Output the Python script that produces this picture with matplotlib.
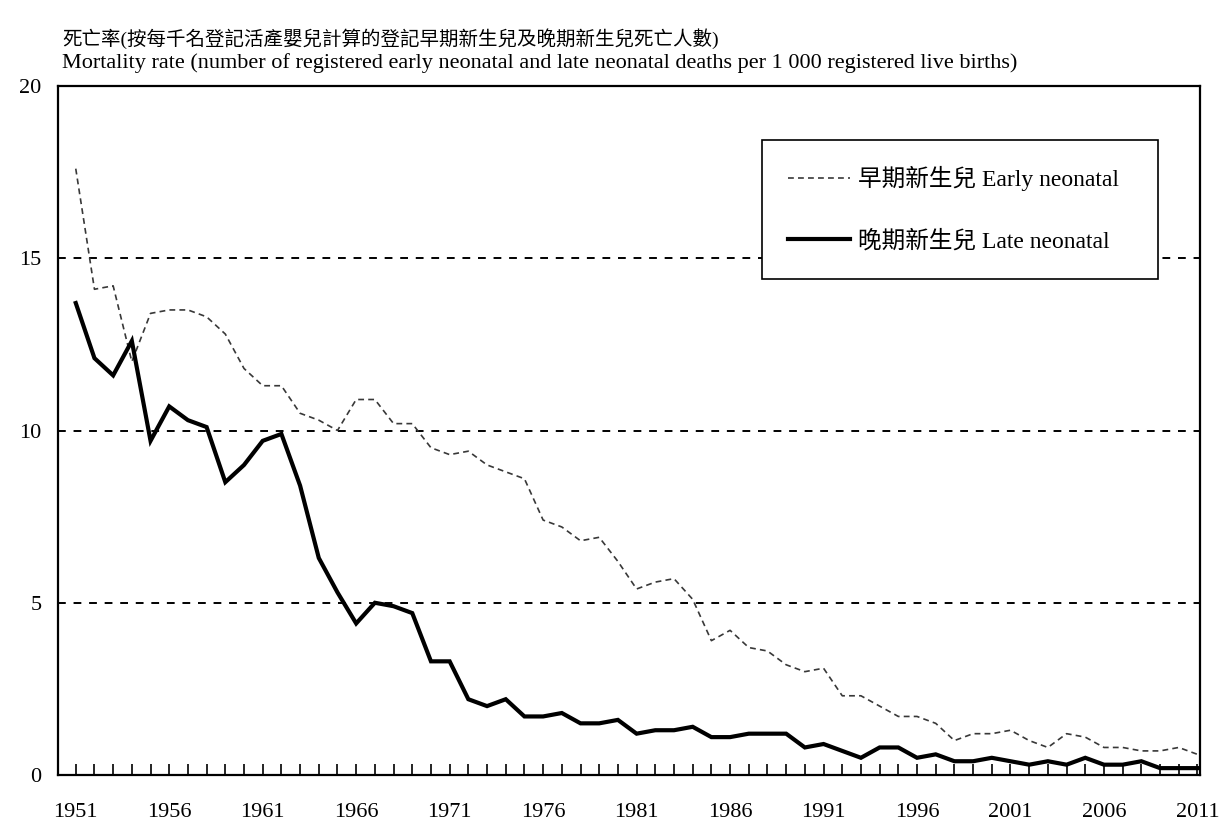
import matplotlib
matplotlib.use("Agg")
import matplotlib.pyplot as plt
from matplotlib.ticker import MultipleLocator, FixedLocator

# ---------------- data ----------------
years = list(range(1951, 2012))

early_neonatal = [
    17.6, 14.1, 14.2, 12.0, 13.4, 13.5, 13.5, 13.3, 12.8, 11.8,
    11.3, 11.3, 10.5, 10.3, 10.0, 10.9, 10.9, 10.2, 10.2, 9.5,
    9.3, 9.4, 9.0, 8.8, 8.6, 7.4, 7.2, 6.8, 6.9, 6.2,
    5.4, 5.6, 5.7, 5.1, 3.9, 4.2, 3.7, 3.6, 3.2, 3.0,
    3.1, 2.3, 2.3, 2.0, 1.7, 1.7, 1.5, 1.0, 1.2, 1.2,
    1.3, 1.0, 0.8, 1.2, 1.1, 0.8, 0.8, 0.7, 0.7, 0.8,
    0.6,
]

late_neonatal = [
    13.7, 12.1, 11.6, 12.6, 9.7, 10.7, 10.3, 10.1, 8.5, 9.0,
    9.7, 9.9, 8.4, 6.3, 5.3, 4.4, 5.0, 4.9, 4.7, 3.3,
    3.3, 2.2, 2.0, 2.2, 1.7, 1.7, 1.8, 1.5, 1.5, 1.6,
    1.2, 1.3, 1.3, 1.4, 1.1, 1.1, 1.2, 1.2, 1.2, 0.8,
    0.9, 0.7, 0.5, 0.8, 0.8, 0.5, 0.6, 0.4, 0.4, 0.5,
    0.4, 0.3, 0.4, 0.3, 0.5, 0.3, 0.3, 0.4, 0.2, 0.2,
    0.2,
]

label_years = list(range(1951, 2012, 5))

title_zh = "死亡率(按每千名登記活產嬰兒計算的登記早期新生兒及晚期新生兒死亡人數)"
title_en = ("Mortality rate (number of registered early neonatal and late neonatal "
            "deaths per 1 000 registered live births)")
label_early = "早期新生兒 Early neonatal"
label_late = "晚期新生兒 Late neonatal"

# ---------------- style ----------------
FONTS = ["Liberation Serif", "Noto Sans CJK TC", "DejaVu Sans"]
plt.rcParams["font.family"] = FONTS
plt.rcParams["font.size"] = 15

fig = plt.figure(figsize=(12.21, 8.23), dpi=100)
ax = fig.add_axes([0.0475, 0.0583, 0.9355, 0.8372])

ax.plot(years, early_neonatal, color="#383838", linewidth=1.2,
        linestyle=(0, (3.5, 2.5)), label=label_early, zorder=3)
ax.plot(years, late_neonatal, color="black", linewidth=3.0,
        solid_joinstyle="miter", label=label_late, zorder=4)

ax.set_xlim(1950.05, 2011.15)
ax.set_ylim(0, 20)

# dashed gridlines at 5, 10, 15
for y in (5, 10, 15):
    ax.axhline(y, color="black", linewidth=1.4, linestyle=(0, (4, 4)), zorder=1)

for s in ax.spines.values():
    s.set_linewidth(1.6)
    s.set_color("black")

ax.yaxis.set_major_locator(MultipleLocator(5))
ax.tick_params(axis="y", length=0, pad=12, labelsize=16)

ax.xaxis.set_major_locator(FixedLocator(label_years))
ax.xaxis.set_minor_locator(FixedLocator(years))
ax.tick_params(axis="x", which="both", direction="in", length=8, width=1.2,
               pad=20, labelsize=16)

fig.text(0.0508, 0.953, title_zh, fontsize=14, ha="left", va="center")
fig.text(0.0508, 0.924, title_en, fontsize=16, ha="left", va="center")

leg = ax.legend(loc="upper right", bbox_to_anchor=(0.6165, 0.0, 0.3468, 0.9216),
                mode="expand", frameon=True, fancybox=False, edgecolor="black",
                framealpha=1, fontsize=17, handlelength=2.6,
                labelspacing=1.65, borderpad=1.1, handletextpad=0.35,
                borderaxespad=0)
leg.get_frame().set_linewidth(1.2)
leg.set_zorder(5)

fig.savefig("out.png", dpi=100)
